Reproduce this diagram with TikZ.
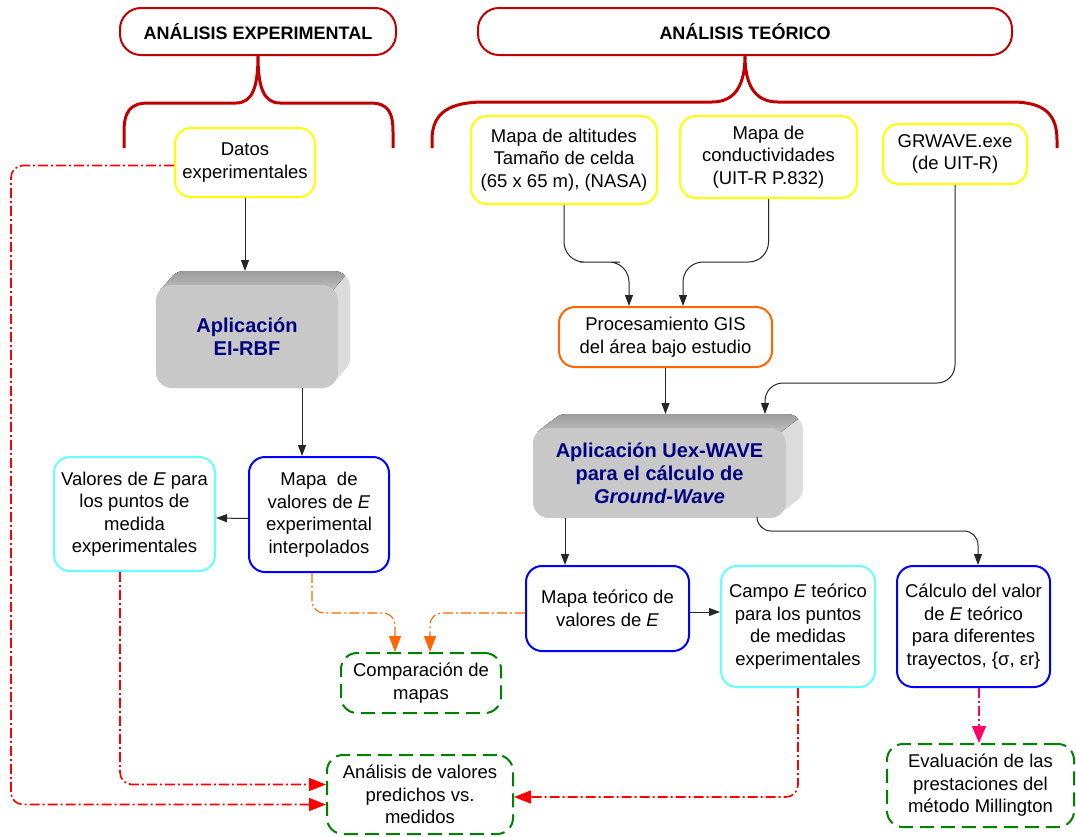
\documentclass[tikz,border=0pt]{standalone}
\usepackage{fontspec}
\setmainfont{Liberation Sans}
\usetikzlibrary{arrows.meta,calc}

\definecolor{brc}{HTML}{C00000}
\definecolor{yel}{HTML}{FFFF00}
\definecolor{org}{HTML}{FF6600}
\definecolor{blu}{HTML}{0000FF}
\definecolor{cya}{HTML}{66FFFF}
\definecolor{grn}{HTML}{008000}
\definecolor{rdl}{HTML}{FF0000}
\definecolor{pnk}{HTML}{FF0066}
\definecolor{navy}{HTML}{000080}
\definecolor{frontgray}{HTML}{C8C8C8}
\definecolor{sidegray}{HTML}{DCDCDC}
\definecolor{topdark}{HTML}{9C9C9C}
\definecolor{toplight}{HTML}{BDBDBD}

\newcommand\bodyfont{\fontsize{18.5}{22.5}\selectfont}
\newcommand\titlefont{\fontsize{18}{22}\selectfont\bfseries}
\newcommand\appfont{\fontsize{20}{23}\selectfont\bfseries}

% extruded rounded box: front face (#1,#2)-(#3,#4), depth #5 to the right, #6 upwards
\newcommand\extrusion[6]{%
  \fill[sidegray, rounded corners=16pt] \foreach \t in {0,1,...,#6}
    {(#1+\t*#5/#6,#2-\t) rectangle (#3+\t*#5/#6,#4-\t)};
  \begin{scope}
    \clip[rounded corners=16pt] \foreach \t in {0,1,...,#6}
      {(#1+\t*#5/#6,#2-\t) rectangle (#3+\t*#5/#6,#4-\t)};
    \clip (0,0) -- (#3+#5-5,0) -- (#3+#5-5,#2-#6+5) -- (#3-5,#2+5) -- (0,#2+5) -- cycle;
    \fill[top color=topdark, bottom color=toplight] (#1,#2-#6) rectangle (#3+#5,#2+5);
  \end{scope}}

\tikzset{
  box/.style={rectangle, rounded corners=16pt, line width=2pt, fill=white,
    align=center, inner sep=0pt, font=\bodyfont},
  ybox/.style={box, draw=yel},
  obox/.style={box, draw=org},
  bbox/.style={box, draw=blu},
  cbox/.style={box, draw=cya},
  gbox/.style={box, draw=grn, dash pattern=on 14pt off 7pt},
  tbox/.style={rectangle, rounded corners=21pt, line width=2pt, draw=brc, fill=white,
    align=center, inner sep=0pt, font=\titlefont, minimum height=47pt},
  appbox/.style={rectangle, rounded corners=16pt, fill=frontgray, align=center,
    inner sep=0pt, font=\appfont, text=navy},
  brace/.style={draw=brc, line width=3pt},
  arr/.style={draw=black!85, line width=1pt, -{Triangle[length=11pt,width=8pt]}},
  rdd/.style={draw=rdl, line width=1.6pt, dash pattern=on 10pt off 3pt on 2pt off 3pt,
    -{Triangle[length=17pt,width=13pt]}},
  odd/.style={draw=org, line width=1.1pt, dash pattern=on 10pt off 3pt on 2pt off 3pt,
    -{Triangle[length=16pt,width=12pt]}},
  pdd/.style={draw=pnk, line width=1.4pt, dash pattern=on 10pt off 3pt on 2pt off 3pt,
    -{Triangle[length=17pt,width=14pt]}},
}

\begin{document}
\begin{tikzpicture}[x=1pt,y=-1pt]
\fill[white] (0,0) rectangle (1076,836);
\useasboundingbox (0,0) rectangle (1076,836);

% headings
\node[tbox, minimum width=276pt] (texp) at (258,31.5) {ANÁLISIS EXPERIMENTAL};
\node[tbox, minimum width=534pt] (tteo) at (745,31.5) {ANÁLISIS TEÓRICO};

% braces under the headings
\draw[brace] (124,148) -- (124,132) .. controls (124,112) and (130,103) .. (148,103)
  -- (236,103) .. controls (252,103) and (258,88) .. (texp.south)
  .. controls (258,88) and (264,103) .. (280,103) -- (370,103)
  .. controls (388,103) and (393,112) .. (393,132) -- (393,148);
\draw[brace] (432,148) -- (432,140) .. controls (432,112) and (450,102) .. (485,102)
  -- (712,102) .. controls (735,102) and (745,85) .. (tteo.south)
  .. controls (745,85) and (755,102) .. (778,102) -- (1012,102)
  .. controls (1045,102) and (1057,115) .. (1057,140) -- (1057,148);

% input data
\node[ybox, minimum width=140pt, minimum height=69pt] (datos) at (245,162.5) {Datos\\experimentales};
\node[ybox, minimum width=186pt, minimum height=88pt] (alt) at (564,160) {Mapa de altitudes\\Tamaño de celda\\(65 x 65 m), (NASA)};
\node[ybox, minimum width=177pt, minimum height=82pt] (cond) at (768.5,157) {Mapa de\\conductividades\\(UIT-R P.832)};
\node[ybox, minimum width=144pt, minimum height=60pt] (grw) at (955,154) {GRWAVE.exe\\(de UIT-R)};

% applications
\extrusion{156}{285}{338}{388}{12}{14}
\node[appbox, minimum width=182pt, minimum height=103pt] (rbf) at (247,336.5) {Aplicación\\EI-RBF};
\extrusion{533}{427}{786}{517}{17}{13}
\node[appbox, minimum width=253pt, minimum height=90pt] (uex) at (659.5,473) {Aplicación Uex-WAVE\\para el cálculo de\\\textit{Ground-Wave}};

\node[obox, minimum width=213pt, minimum height=60pt] (gis) at (665.5,337) {Procesamiento GIS\\del área bajo estudio};

% results
\node[bbox, minimum width=140pt, minimum height=115pt] (mv) at (319,514.5) {Mapa\ \ de\\valores de \textit{E}\\experimental\\interpolados};
\node[cbox, minimum width=161pt, minimum height=114pt] (vpm) at (134.5,514) {Valores de \textit{E} para\\los puntos de\\medida\\experimentales};
\node[bbox, minimum width=163pt, minimum height=85pt] (mt) at (607.5,608.5) {Mapa teórico de\\valores de \textit{E}};
\node[cbox, minimum width=154pt, minimum height=121pt] (campo) at (798,626.5) {Campo \textit{E} teórico\\para los puntos\\de medidas\\experimentales};
\node[bbox, minimum width=153pt, minimum height=121pt] (calc) at (973.5,626.5) {Cálculo del valor\\de \textit{E} teórico\\para diferentes\\trayectos, \{σ, εr\}};

% evaluations
\node[gbox, minimum width=160pt, minimum height=60pt] (comp) at (421,683) {Comparación de\\mapas};
\node[gbox, minimum width=186pt, minimum height=79pt] (ana) at (420,794.5) {Análisis de valores\\predichos vs.\\medidos};
\node[gbox, minimum width=187pt, minimum height=83pt] (eval) at (980.5,785.5) {Evaluación de las\\prestaciones del\\método Millington};

% solid flow
\coordinate (rbftop) at (0,271);
\coordinate (uextop) at (0,414);
\coordinate (uexin) at (765,414);
\draw[arr] (datos.south) -- (datos.south |- rbftop);
\draw[arr] ([xshift=55pt]rbf.south) -- ([xshift=-17pt]mv.north);
\draw[arr] ([yshift=-4pt]mv.west) -- ([yshift=-4pt]vpm.east);
\draw[arr, rounded corners=20pt] (alt.south) |- (600,262) -| ([xshift=-36.5pt]gis.north);
\draw[arr, rounded corners=20pt] (cond.south) |- (720,262) -| ([xshift=17.5pt]gis.north);
\draw[arr] (gis.south) -- (gis.south |- uextop);
\draw[arr, rounded corners=18pt] (grw.south) |- (850,383) -| (uexin);
\draw[arr] ([xshift=-94.5pt]uex.south) -- ([xshift=-42.5pt]mt.north);
\draw[arr] ([yshift=-3.5pt]mt.east) -- ([yshift=14.5pt]campo.west);
\draw[arr, rounded corners=14pt] ([xshift=97.5pt]uex.south) |- (870,531) -| ([xshift=4.5pt]calc.north);

% comparison flow
\draw[rdd, rounded corners=12pt] ([yshift=-3pt]datos.west) -| (11,480) |- ([yshift=-10pt]ana.west);
\draw[rdd, rounded corners=12pt] ([xshift=-14.5pt]vpm.south) |- ([yshift=10pt]ana.west);
\draw[rdd, rounded corners=12pt] (campo.south) |- ([yshift=-2.5pt]ana.east);
\draw[odd, rounded corners=12pt] ([xshift=-7pt]mv.south) |- (360,613) -| ([xshift=-26pt]comp.north);
\draw[odd, rounded corners=12pt] ([yshift=-4.5pt]mt.west) -| ([xshift=9pt]comp.north);
\draw[pdd] ([xshift=5.5pt]calc.south) -- ([xshift=-1.5pt]eval.north);
\end{tikzpicture}
\end{document}
